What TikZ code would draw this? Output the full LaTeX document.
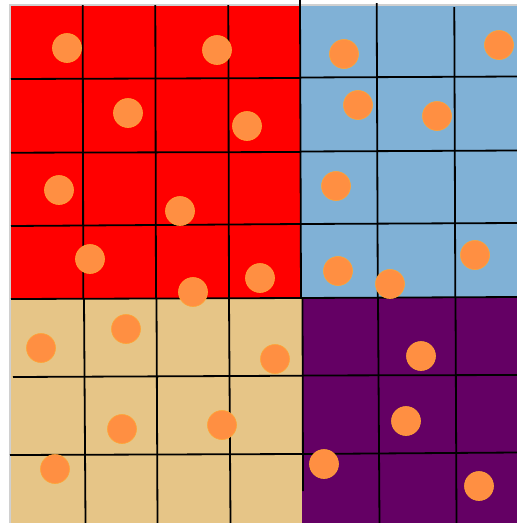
\documentclass[tikz,border=0pt]{standalone}
\usetikzlibrary{positioning}
\definecolor{tileRed}{RGB}{255,0,0}
\definecolor{tileBlue}{RGB}{128,177,214}
\definecolor{tileTan}{RGB}{230,197,135}
\definecolor{tilePurple}{RGB}{100,0,100}
\definecolor{dotOrange}{RGB}{255,143,66}
\definecolor{frameGray}{RGB}{208,208,208}

\begin{document}
\begin{tikzpicture}[x=1pt, y=-1pt,
  gridline/.style={line width=1.8pt, black},
  dot/.style={fill=dotOrange, draw=dotOrange!80!yellow, line width=0.6pt}]
  \useasboundingbox (0,0) rectangle (517,523);
  % quadrants
  \fill[tileRed] (11,6) rectangle (301,298);
  \fill[tileBlue] (301,6) rectangle (517,297.5);
  \fill[tileTan] (11,298) rectangle (302,523);
  \fill[tilePurple] (302,297.5) rectangle (517,523);
  % frame (light)
  \draw[frameGray, line width=2pt] (10,523) -- (10,5) -- (517,5);
  % grid: red
  \draw[gridline] (11,79) -- (301,78);
  \draw[gridline] (11,152.7) -- (301,152);
  \draw[gridline] (11,226) -- (301,224);
  \draw[gridline] (11,299) -- (302,298);
  \draw[gridline] (82.7,5) -- (83.3,299);
  \draw[gridline] (155.3,5) -- (156,299);
  \draw[gridline] (228.3,5) -- (229,299);
  \draw[gridline] (300,0) -- (301,298);
  % grid: blue
  \draw[gridline] (301,77.5) -- (517,76.5);
  \draw[gridline] (301,151.5) -- (517,150.5);
  \draw[gridline] (301,224) -- (517,223);
  \draw[gridline] (301,298) -- (517,297);
  \draw[gridline] (376.7,3) -- (377.8,298);
  \draw[gridline] (454.3,7) -- (455.3,298);
  % grid: tan
  \draw[gridline] (13,377) -- (302,375.7);
  \draw[gridline] (10,455) -- (302,454);
  \draw[gridline] (84,299) -- (85.5,523);
  \draw[gridline] (156.5,299) -- (157.5,523);
  \draw[gridline] (229,299) -- (230.5,523);
  \draw[gridline] (302.5,298) -- (303,491);
  % grid: purple
  \draw[gridline] (302,375.5) -- (517,375);
  \draw[gridline] (302,454) -- (517,452.5);
  \draw[gridline] (378,298) -- (379.5,523);
  \draw[gridline] (455.5,298) -- (456.5,523);
  % dots
  \foreach \px/\py in {67/48, 217/50, 128/113, 247/126, 59/190, 180/211,
      90/259, 193/292, 260/278, 344/54, 499/45, 358/105, 437/116,
      336/186, 338/271, 475/255, 390/284, 126/329, 41/348, 275/359,
      122/429, 222/425, 55/469, 421/356, 406/421, 324/464, 479/486}
    \filldraw[dot] (\px,\py) circle (14.5pt);
\end{tikzpicture}
\end{document}
